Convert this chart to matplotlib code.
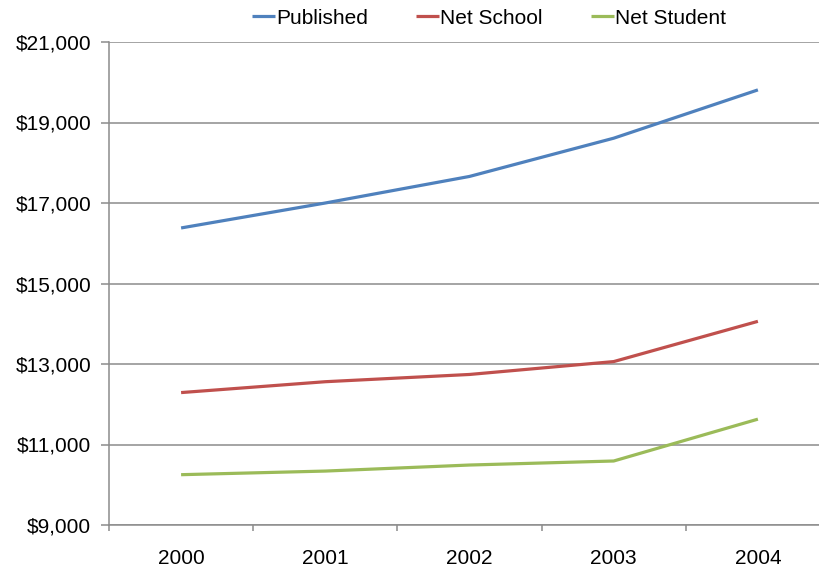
import matplotlib
matplotlib.use("Agg")
import matplotlib.pyplot as plt
from matplotlib.ticker import FuncFormatter

years = ["2000", "2001", "2002", "2003", "2004"]
published = [16380, 17000, 17660, 18610, 19810]
net_school = [12290, 12560, 12740, 13060, 14060]
net_student = [10250, 10340, 10490, 10590, 11630]
series_names = ["Published", "Net School", "Net Student"]
colors = ["#4F81BD", "#C0504D", "#9BBB59"]

plt.rcParams['font.family'] = ['Liberation Sans', 'DejaVu Sans']

fig = plt.figure(figsize=(8.19, 5.71), dpi=100)
ax = fig.add_axes([109/819, 1-525/571, (830-109)/819, (525-42)/571])

x = list(range(len(years)))
for vals, name, c in zip([published, net_school, net_student], series_names, colors):
    ax.plot(x, vals, color=c, lw=2.3, label=name, solid_capstyle='butt', zorder=3)

ax.set_xlim(-0.5, 4.5)
ax.set_ylim(9000, 21000)
ax.set_yticks(range(9000, 21001, 2000))
ax.yaxis.set_major_formatter(FuncFormatter(lambda v, p: f"${int(v):,}"))
ax.set_xticks(x)
ax.set_xticklabels(years)
ax.set_xticks([i - 0.5 for i in range(len(years) + 1)], minor=True)

grid_c = "#8C8C8C"
ax.grid(axis='y', color=grid_c, lw=1.1, zorder=1)
ax.set_axisbelow(True)
for s in ['top', 'right']:
    ax.spines[s].set_visible(False)
for s in ['left', 'bottom']:
    ax.spines[s].set_color(grid_c)
    ax.spines[s].set_linewidth(1.1)

fs = 15
ax.tick_params(axis='y', length=5.8, width=1.1, color=grid_c, labelsize=fs, pad=7)
ax.tick_params(axis='x', which='major', length=0, labelsize=fs, pad=17)
ax.tick_params(axis='x', which='minor', length=4, width=1.1, color=grid_c)

leg = fig.legend(loc='center', bbox_to_anchor=(489/819, 1-18/571), ncol=3,
                 frameon=False, fontsize=fs, handlelength=1.1,
                 handletextpad=0.05, columnspacing=2.3)

fig.savefig("out.png", dpi=100)
